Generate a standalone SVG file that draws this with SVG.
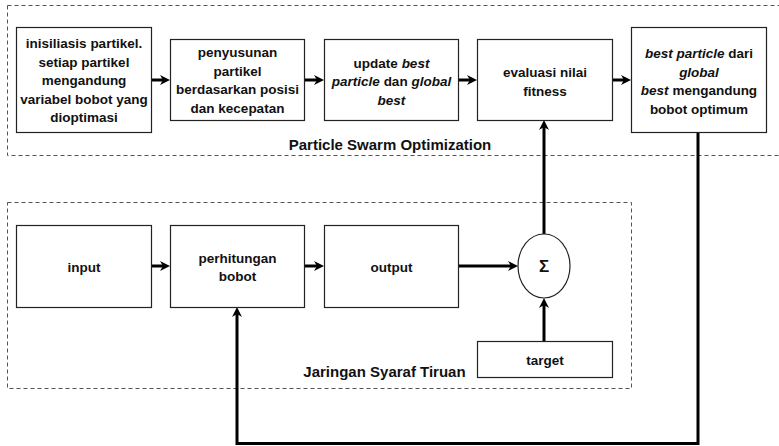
<svg xmlns="http://www.w3.org/2000/svg" width="779" height="446" viewBox="0 0 779 446">
  <style>
    .box { fill: #ffffff; stroke: #222222; stroke-width: 1.2; }
    .group { fill: none; stroke: #555555; stroke-width: 1; stroke-dasharray: 4 3; }
    .t { font-family: "Liberation Sans", Arial, sans-serif; font-size: 13.5px; font-weight: bold; fill: #111111; text-anchor: middle; }
    .lbl { font-family: "Liberation Sans", Arial, sans-serif; font-size: 15px; font-weight: bold; fill: #111111; text-anchor: middle; }
    .i { font-style: italic; }
    .edge { fill: none; stroke: #000000; stroke-width: 3; }
  </style>
  <defs>
    <marker id="arrow" viewBox="0 0 10 10" refX="4" refY="5" markerWidth="10" markerHeight="10" markerUnits="userSpaceOnUse" orient="auto">
      <path d="M0,0 L10,5 L0,10 L3,5 z" fill="#000000"/>
    </marker>
  </defs>

  <rect width="779" height="446" fill="#ffffff"/>

  <!-- dashed group frames -->
  <g id="pso-group">
    <rect class="group" x="7.5" y="5.5" width="776" height="150"/>
    <text class="lbl" x="390" y="150">Particle Swarm Optimization</text>
  </g>
  <g id="jst-group">
    <rect class="group" x="7.5" y="202.5" width="624" height="186"/>
    <text class="lbl" x="384.5" y="377">Jaringan Syaraf Tiruan</text>
  </g>

  <!-- connectors -->
  <g id="connectors">
    <line class="edge" x1="151" y1="80" x2="164" y2="80" marker-end="url(#arrow)"/>
    <line class="edge" x1="304" y1="80" x2="318" y2="80" marker-end="url(#arrow)"/>
    <line class="edge" x1="458" y1="80" x2="471" y2="80" marker-end="url(#arrow)"/>
    <line class="edge" x1="612" y1="80" x2="625" y2="80" marker-end="url(#arrow)"/>
    <line class="edge" x1="151" y1="266" x2="164" y2="266" marker-end="url(#arrow)"/>
    <line class="edge" x1="304" y1="266" x2="318" y2="266" marker-end="url(#arrow)"/>
    <line class="edge" x1="458" y1="266" x2="512" y2="266" marker-end="url(#arrow)"/>
    <line class="edge" x1="544" y1="341" x2="544" y2="304" marker-end="url(#arrow)"/>
    <line class="edge" x1="544" y1="234" x2="544" y2="126" marker-end="url(#arrow)"/>
    <polyline class="edge" points="698,132 698,443.5 237,443.5 237,313" marker-end="url(#arrow)"/>
  </g>

  <!-- Particle Swarm Optimization steps -->
  <g id="init">
    <rect class="box" x="16.5" y="27.5" width="135" height="105"/>
    <text class="t" x="84" y="48">inisiliasis partikel.</text>
    <text class="t" x="84" y="66.5">setiap partikel</text>
    <text class="t" x="84" y="85">mengandung</text>
    <text class="t" x="84" y="103.5">variabel bobot yang</text>
    <text class="t" x="84" y="122">dioptimasi</text>
  </g>
  <g id="arrange">
    <rect class="box" x="170.5" y="39.5" width="134" height="81"/>
    <text class="t" x="237.5" y="57.25">penyusunan</text>
    <text class="t" x="237.5" y="75.75">partikel</text>
    <text class="t" x="237.5" y="94.25">berdasarkan posisi</text>
    <text class="t" x="237.5" y="112.75">dan kecepatan</text>
  </g>
  <g id="update">
    <rect class="box" x="324.5" y="39.5" width="134" height="81"/>
    <text class="t" x="391.5" y="67.5">update <tspan class="i">best</tspan></text>
    <text class="t" x="391.5" y="86"><tspan class="i">particle</tspan> dan <tspan class="i">global</tspan></text>
    <text class="t" x="391.5" y="104.5"><tspan class="i">best</tspan></text>
  </g>
  <g id="fitness">
    <rect class="box" x="477.5" y="39.5" width="135" height="81"/>
    <text class="t" x="545" y="77">evaluasi nilai</text>
    <text class="t" x="545" y="95.5">fitness</text>
  </g>
  <g id="best">
    <rect class="box" x="631.5" y="27.5" width="135" height="105"/>
    <text class="t" x="699" y="58.25"><tspan class="i">best particle</tspan> dari</text>
    <text class="t" x="699" y="76.75"><tspan class="i">global</tspan></text>
    <text class="t" x="699" y="95.25"><tspan class="i">best</tspan> mengandung</text>
    <text class="t" x="699" y="113.75">bobot optimum</text>
  </g>

  <!-- Jaringan Syaraf Tiruan -->
  <g id="input">
    <rect class="box" x="16.5" y="225.5" width="135" height="82"/>
    <text class="t" x="84" y="272">input</text>
  </g>
  <g id="weights">
    <rect class="box" x="170.5" y="225.5" width="134" height="82"/>
    <text class="t" x="237.5" y="262.75">perhitungan</text>
    <text class="t" x="237.5" y="281.25">bobot</text>
  </g>
  <g id="output">
    <rect class="box" x="324.5" y="225.5" width="134" height="82"/>
    <text class="t" x="391.5" y="272">output</text>
  </g>
  <g id="sum">
    <ellipse class="box" cx="544" cy="266" rx="26" ry="32"/>
    <text class="t" x="544" y="272" style="font-size:17px">Σ</text>
  </g>
  <g id="target">
    <rect class="box" x="477.5" y="341.5" width="135" height="36"/>
    <text class="t" x="545" y="364.5">target</text>
  </g>
</svg>
